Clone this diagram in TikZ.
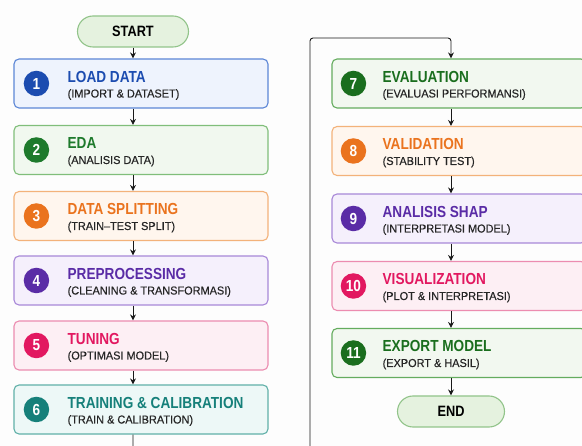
\documentclass[tikz,border=0pt]{standalone}
\usepackage{fontspec}
\setmainfont{Liberation Sans}
\newfontfamily\headfont[FakeStretch=0.85,Ligatures=TeX]{Liberation Sans}
\newfontfamily\subfont[FakeBold=0.4,FakeStretch=0.95,Ligatures=TeX]{Liberation Sans}
\usetikzlibrary{arrows.meta,positioning,shapes.misc}
\definecolor{bg}{RGB}{253,253,253}
\definecolor{blueline}{RGB}{92,134,214}
\definecolor{bluefill}{RGB}{238,243,253}
\definecolor{bluetext}{RGB}{28,76,176}
\definecolor{greenline}{RGB}{128,190,122}
\definecolor{greenfill}{RGB}{241,248,239}
\definecolor{greentext}{RGB}{30,122,44}
\definecolor{orangeline}{RGB}{243,178,122}
\definecolor{orangefill}{RGB}{255,246,238}
\definecolor{orangetext}{RGB}{234,115,30}
\definecolor{purpleline}{RGB}{168,136,216}
\definecolor{purplefill}{RGB}{245,240,252}
\definecolor{purpletext}{RGB}{90,44,166}
\definecolor{pinkline}{RGB}{236,140,176}
\definecolor{pinkfill}{RGB}{253,239,244}
\definecolor{pinktext}{RGB}{226,24,96}
\definecolor{tealline}{RGB}{96,176,168}
\definecolor{tealfill}{RGB}{237,248,247}
\definecolor{tealtext}{RGB}{22,128,122}
\definecolor{dgreenline}{RGB}{100,172,94}
\definecolor{dgreenfill}{RGB}{242,248,240}
\definecolor{dgreentext}{RGB}{26,110,30}
\definecolor{termfill}{RGB}{229,242,223}
\definecolor{termline}{RGB}{146,196,138}

% offsets of badge and text from the left edge of a stage box
\def\badgex{23}
\def\textx{54}
% one pipeline stage: name, x, y, colour set, number, title, subtitle
\newcommand{\stage}[7]{%
  \node[stagebox,draw=#4line,fill=#4fill] (#1) at (#2,#3) {};
  \node[badge,fill=#4text] (#1n) at ([xshift=\badgex pt]#1.west) {#5};
  \node[headline,text=#4text] (#1t) at ([xshift=\textx pt,yshift=1pt]#1.west) {#6};
  \node[subline] (#1s) at ([xshift=\textx pt,yshift=-14pt]#1.west) {#7};
}

\begin{document}
\begin{tikzpicture}[x=1pt,y=-1pt,
  stagebox/.style={rectangle,rounded corners=5pt,line width=1.1pt,minimum width=254pt,minimum height=49pt,inner sep=0pt},
  badge/.style={circle,inner sep=0pt,minimum size=25.5pt,text=white,font=\headfont\bfseries\fontsize{16}{16}\selectfont},
  headline/.style={anchor=base west,inner sep=0pt,font=\headfont\bfseries\fontsize{16}{16}\selectfont},
  subline/.style={anchor=base west,inner sep=0pt,text=black!85,font=\subfont\fontsize{11.5}{12}\selectfont},
  terminal/.style={rounded rectangle,draw=termline,fill=termfill,line width=1.1pt,minimum width=111pt,minimum height=31pt,inner sep=0pt,font=\headfont\bfseries\fontsize{15}{15}\selectfont},
  flow/.style={-{Stealth[length=6pt,width=6pt]},line width=0.9pt,black!90}]
\fill[bg] (0,0) rectangle (582,446);
\clip (0,0) rectangle (582,446);
% left column
\node[terminal] (start) at (133,31.5) {START};
\stage{s1}{141}{83.5}{blue}{1}{LOAD DATA}{(IMPORT \& DATASET)}
\stage{s2}{141}{150}{green}{2}{EDA}{(ANALISIS DATA)}
\stage{s3}{141}{216}{orange}{3}{DATA SPLITTING}{(TRAIN–TEST SPLIT)}
\stage{s4}{141}{280.5}{purple}{4}{PREPROCESSING}{(CLEANING \& TRANSFORMASI)}
\stage{s5}{141}{345.5}{pink}{5}{TUNING}{(OPTIMASI MODEL)}
\stage{s6}{141}{409.5}{teal}{6}{TRAINING \& CALIBRATION}{(TRAIN \& CALIBRATION)}
% right column
\def\badgex{22}
\def\textx{51}
\stage{s7}{459}{83.5}{dgreen}{7}{EVALUATION}{(EVALUASI PERFORMANSI)}
\stage{s8}{459}{151}{orange}{8}{VALIDATION}{(STABILITY TEST)}
\stage{s9}{459}{218.5}{purple}{9}{ANALISIS SHAP}{(INTERPRETASI MODEL)}
\stage{s10}{459}{286}{pink}{10}{VISUALIZATION}{(PLOT \& INTERPRETASI)}
\stage{s11}{459}{353}{dgreen}{11}{EXPORT MODEL}{(EXPORT \& HASIL)}
\node[terminal,minimum width=107pt] (end) at (451,411.5) {END};
% arrows
\draw[flow] (start.south) -- (start.south |- s1.north);
\draw[flow] (s1.south -| start) -- (s2.north -| start);
\draw[flow] (s2.south -| start) -- (s3.north -| start);
\draw[flow] (s3.south -| start) -- (s4.north -| start);
\draw[flow] (s4.south -| start) -- (s5.north -| start);
\draw[flow] (s5.south -| start) -- (s6.north -| start);
\draw[flow,rounded corners=3pt] (s6.south -| start) -- ++(0,40) -| (310,38) -| (s7.north -| end);
\draw[flow] (s7.south -| end) -- (s8.north -| end);
\draw[flow] (s8.south -| end) -- (s9.north -| end);
\draw[flow] (s9.south -| end) -- (s10.north -| end);
\draw[flow] (s10.south -| end) -- (s11.north -| end);
\draw[flow] (s11.south -| end) -- (end.north);
\end{tikzpicture}
\end{document}
